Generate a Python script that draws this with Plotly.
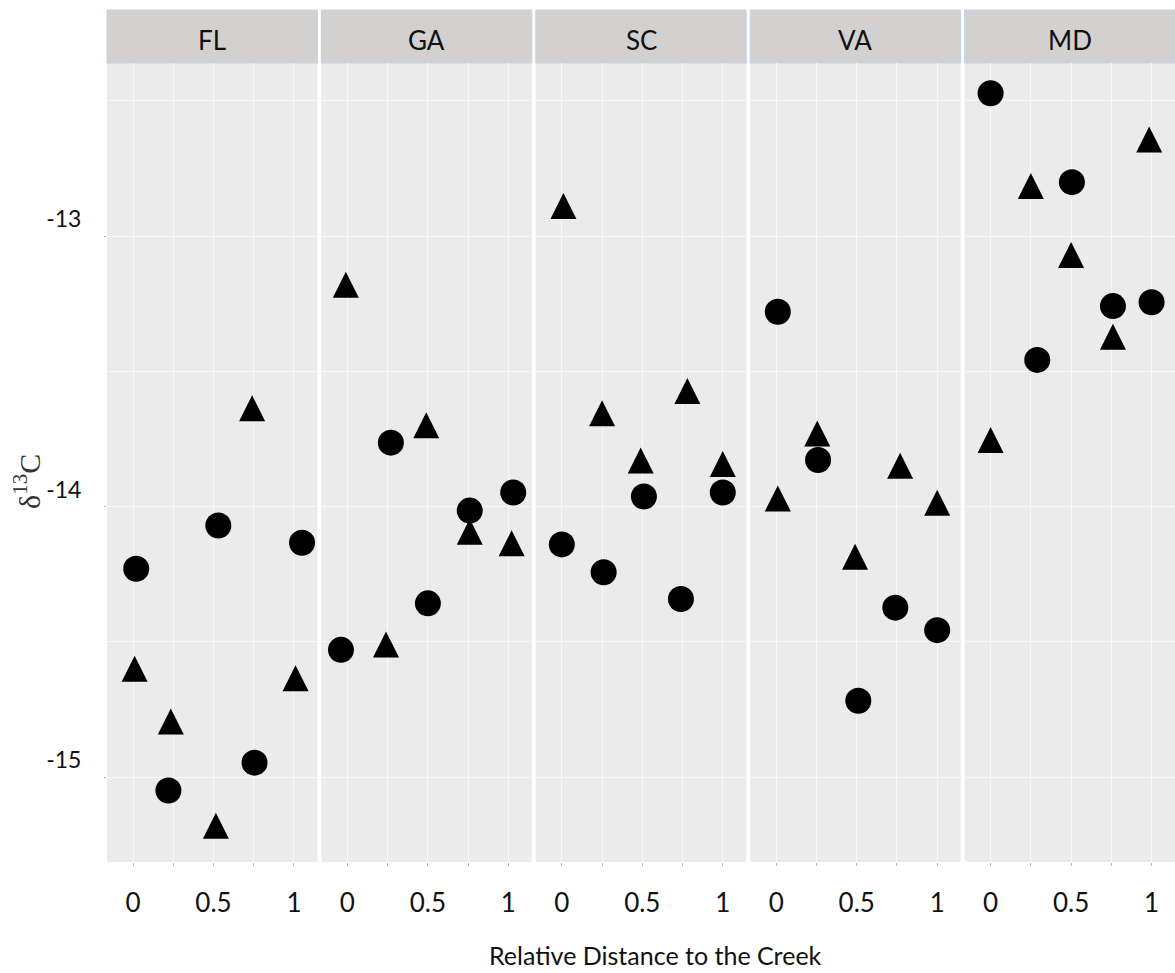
import plotly.graph_objects as go

# ---------------- data ----------------
panels = ["FL", "GA", "SC", "VA", "MD"]

FL_circle_x = [0.02, 0.22, 0.53, 0.755, 1.05]
FL_circle_y = [-14.23, -15.05, -14.07, -14.947, -14.134]
FL_tri_x = [0.01, 0.235, 0.515, 0.74, 1.01]
FL_tri_y = [-14.616, -14.811, -15.196, -13.653, -14.651]

GA_circle_x = [-0.04, 0.27, 0.50, 0.76, 1.03]
GA_circle_y = [-14.53, -13.764, -14.358, -14.015, -13.948]
GA_tri_x = [-0.01, 0.24, 0.49, 0.76, 1.02]
GA_tri_y = [-13.196, -14.526, -13.716, -14.109, -14.152]

SC_circle_x = [0.0, 0.26, 0.51, 0.74, 1.0]
SC_circle_y = [-14.14, -14.243, -13.963, -14.342, -13.948]
SC_tri_x = [0.01, 0.25, 0.49, 0.78, 1.0]
SC_tri_y = [-12.905, -13.671, -13.846, -13.589, -13.859]

VA_circle_x = [0.01, 0.26, 0.51, 0.74, 1.0]
VA_circle_y = [-13.28, -13.828, -14.718, -14.374, -14.457]
VA_tri_x = [0.01, 0.255, 0.49, 0.77, 1.0]
VA_tri_y = [-13.986, -13.746, -14.202, -13.865, -14.002]

MD_circle_x = [0.0, 0.29, 0.505, 0.76, 1.0]
MD_circle_y = [-12.472, -13.458, -12.801, -13.259, -13.245]
MD_tri_x = [0.0, 0.25, 0.50, 0.76, 0.985]
MD_tri_y = [-13.770, -12.831, -13.086, -13.388, -12.659]

x_tickvals = [0, 0.5, 1]
x_ticktext = ["0", "0.5", "1"]
x_minor = [0.25, 0.75]
y_tickvals = [-15, -14, -13]
y_ticktext = ["-15", "-14", "-13"]
y_minor = [-14.5, -13.5, -12.5]

x_title = "Relative Distance to the Creek"
y_title = "δ<sup>13</sup>C"

series = {
    "FL": (FL_circle_x, FL_circle_y, FL_tri_x, FL_tri_y),
    "GA": (GA_circle_x, GA_circle_y, GA_tri_x, GA_tri_y),
    "SC": (SC_circle_x, SC_circle_y, SC_tri_x, SC_tri_y),
    "VA": (VA_circle_x, VA_circle_y, VA_tri_x, VA_tri_y),
    "MD": (MD_circle_x, MD_circle_y, MD_tri_x, MD_tri_y),
}

# ---------------- layout geometry ----------------
W, H = 1175, 973
ML, MR, MT, MB = 107, 0, 10, 111
PW = W - ML - MR
PH = H - MT - MB
STRIP_BOTTOM = 63
GAP = 4
panel_w = (PW - GAP * 4) / 5


def px_x(p):
    return (p - ML) / PW


def px_y(p):
    return (H - MB - p) / PH


FONT = "Lato, 'Open Sans', sans-serif"
SIZE = 26
GRID = "#f8f8f8"
TICKC = "#b5b5b5"

fig = go.Figure()
shapes = []
annotations = []
layout = {}

for i, name in enumerate(panels):
    cx, cy, tx, ty = series[name]
    ax = "" if i == 0 else str(i + 1)
    x0 = ML + i * (panel_w + GAP)
    x1 = x0 + panel_w
    fig.add_trace(go.Scatter(
        x=cx, y=cy, mode="markers", xaxis="x" + ax, yaxis="y" + ax,
        marker=dict(symbol="circle", size=SIZE, color="black", line=dict(width=0)),
        showlegend=False, hoverinfo="x+y"))
    fig.add_trace(go.Scatter(
        x=tx, y=ty, mode="markers", xaxis="x" + ax, yaxis="y" + ax,
        marker=dict(symbol="arrow-down", angle=180, standoff=SIZE * 2 / 3,
                    size=SIZE, color="black", line=dict(width=0)),
        showlegend=False, hoverinfo="x+y"))

    layout["xaxis" + ax] = dict(
        domain=[px_x(x0), px_x(x1)], range=[-0.1615, 1.1455],
        anchor="y" + ax, tickvals=x_tickvals, ticktext=x_ticktext,
        showgrid=True, gridcolor=GRID, gridwidth=1.3, zeroline=False,
        showline=False, ticks="outside", ticklen=3, tickwidth=1, tickcolor=TICKC,
        tickfont=dict(family=FONT, size=26, color="#111111"),
        ticklabelstandoff=15,
        minor=dict(tickvals=x_minor, showgrid=True, gridcolor=GRID, gridwidth=1.3,
                   ticks="outside", ticklen=3, tickwidth=1, tickcolor=TICKC),
        fixedrange=True)
    layout["yaxis" + ax] = dict(
        domain=[0, px_y(STRIP_BOTTOM)], range=[-15.3142, -12.3604],
        anchor="x" + ax, tickvals=y_tickvals, ticktext=y_ticktext,
        showticklabels=(i == 0),
        showgrid=True, gridcolor=GRID, gridwidth=1.3, zeroline=False,
        showline=False, ticks="outside" if i == 0 else "", ticklen=2,
        tickcolor=TICKC,
        tickfont=dict(family=FONT, size=23, color="#111111"),
        ticklabelstandoff=18, ticklabelshift=-17,
        minor=dict(tickvals=y_minor, showgrid=True, gridcolor=GRID, gridwidth=1.0, ticks=""),
        fixedrange=True)

    shapes.append(dict(
        type="rect", xref="paper", yref="paper",
        x0=px_x(x0), x1=px_x(x1), y0=px_y(STRIP_BOTTOM), y1=px_y(MT),
        fillcolor="#d3d0d0", line=dict(color="#c6d2e8", width=1), layer="below"))
    annotations.append(dict(
        text=name, xref="paper", yref="paper",
        x=px_x((x0 + x1) / 2), y=px_y(40), xanchor="center", yanchor="middle",
        showarrow=False, font=dict(family=FONT, size=26, color="#111111")))

annotations.append(dict(
    text=x_title, xref="paper", yref="paper", x=px_x(655), y=px_y(955),
    xanchor="center", yanchor="middle", showarrow=False,
    font=dict(family=FONT, size=25, color="#111111")))
annotations.append(dict(
    text=y_title, xref="paper", yref="paper", x=px_x(27), y=px_y(482),
    xanchor="center", yanchor="middle", showarrow=False, textangle=-90,
    font=dict(family="'Liberation Serif', 'DejaVu Serif', serif", size=30, color="#333333")))

fig.update_layout(
    width=W, height=H,
    margin=dict(l=ML, r=MR, t=MT, b=MB, pad=0),
    paper_bgcolor="white", plot_bgcolor="#ebebeb",
    shapes=shapes, annotations=annotations,
    **layout)

fig.write_html("out.html", config={"displayModeBar": False})
